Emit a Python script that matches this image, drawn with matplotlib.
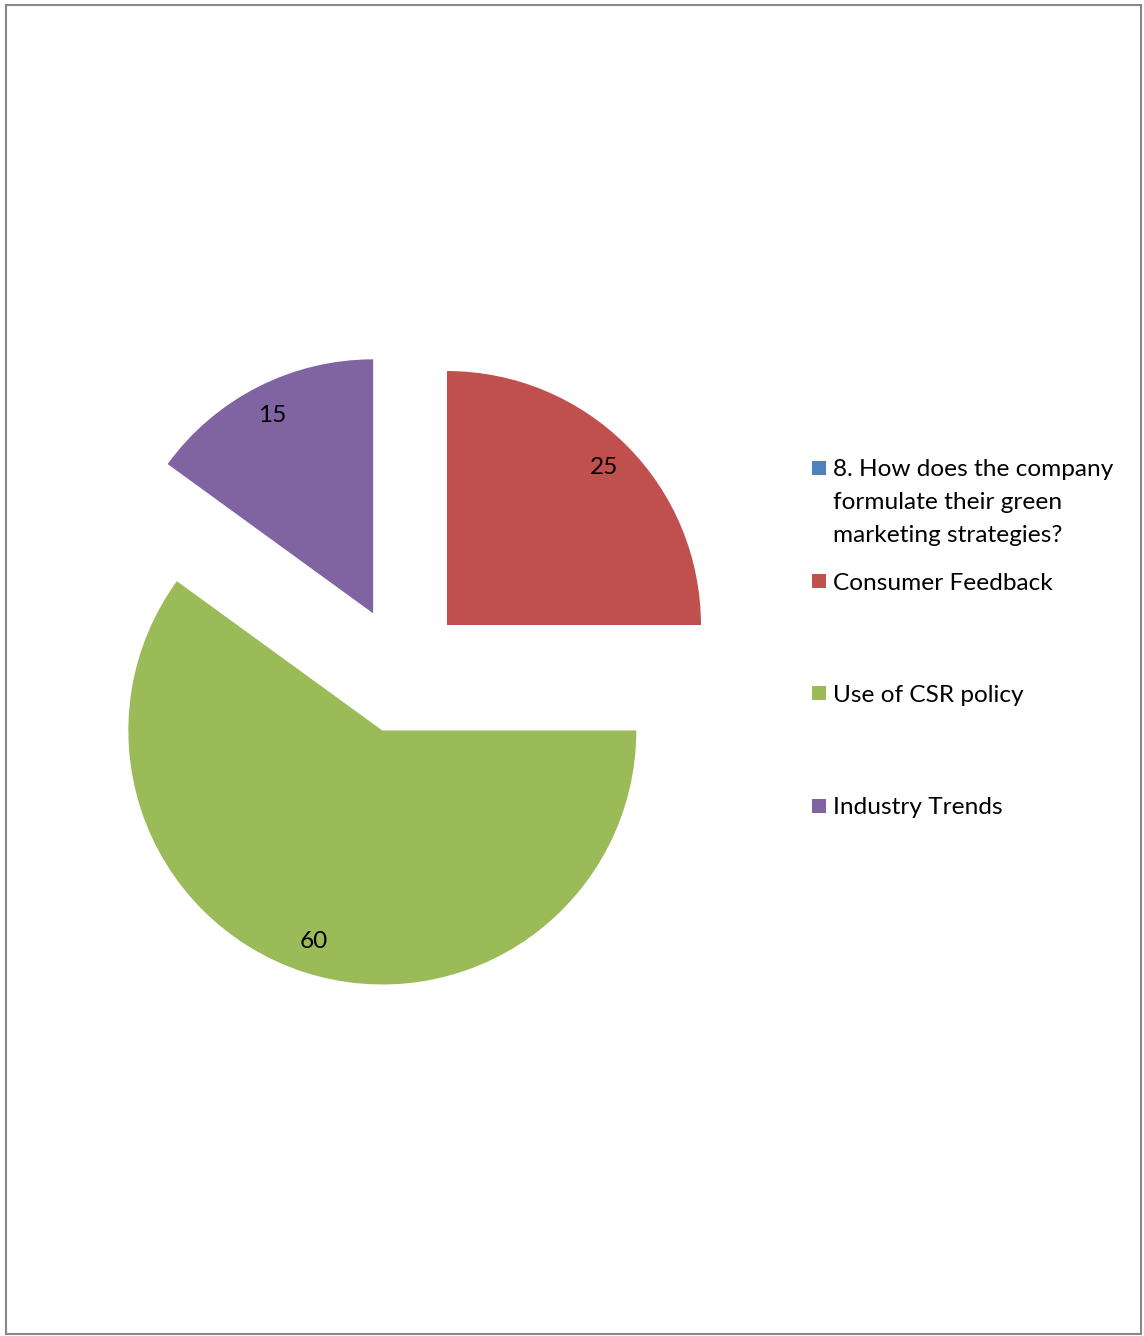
import matplotlib
matplotlib.use("Agg")
import matplotlib.pyplot as plt
from matplotlib.patches import Rectangle

# Survey responses
categories = [
    "8. How does the company\nformulate their green\nmarketing strategies?",
    "Consumer Feedback",
    "Use of CSR policy",
    "Industry Trends",
]
values = [0, 25, 60, 15]
colors = ["#4F81BD", "#C0504D", "#9BBB59", "#8064A2"]

W, H = 1144, 1336
plt.rcParams["font.family"] = ["Lato", "DejaVu Sans"]
FS = 17.6

fig = plt.figure(figsize=(W / 100, H / 100), dpi=100)
ax = fig.add_axes([0, 0, 1, 1])

radius = 254
center = (402, H - 670)
offset = 63.6

wedges, texts, autotexts = ax.pie(
    values,
    colors=colors,
    startangle=90,
    counterclock=False,
    radius=radius,
    center=center,
    explode=[offset] * len(values),
    autopct="%d",
    pctdistance=0.875,
    frame=True,
    wedgeprops=dict(linewidth=0),
    textprops=dict(fontsize=FS, color="black"),
)
ax.set_xlim(0, W)
ax.set_ylim(0, H)
ax.set_aspect("equal")
ax.axis("off")
for t, v in zip(autotexts, values):
    t.set_text(f"{v}" if v else "")

# Legend drawn as squares and labels
legend_x = 812
first_baselines = [476.5, 589.5, 701.5, 814.5]
line_gap = 32.5
for cat, col, yb in zip(categories, colors, first_baselines):
    ax.add_patch(Rectangle((legend_x, H - (yb - 8.5) - 7), 14, 14,
                           facecolor=col, edgecolor="none"))
    for i, line in enumerate(cat.split("\n")):
        ax.text(833, H - (yb + i * line_gap), line, fontsize=FS,
                ha="left", va="baseline", color="black")

# Outer border
fig.add_artist(Rectangle((5.5 / W, 2 / H), 1135.5 / W, 1329.5 / H,
                         transform=fig.transFigure, fill=False,
                         edgecolor="#878787", linewidth=1.5))

fig.savefig("out.png", dpi=100)
